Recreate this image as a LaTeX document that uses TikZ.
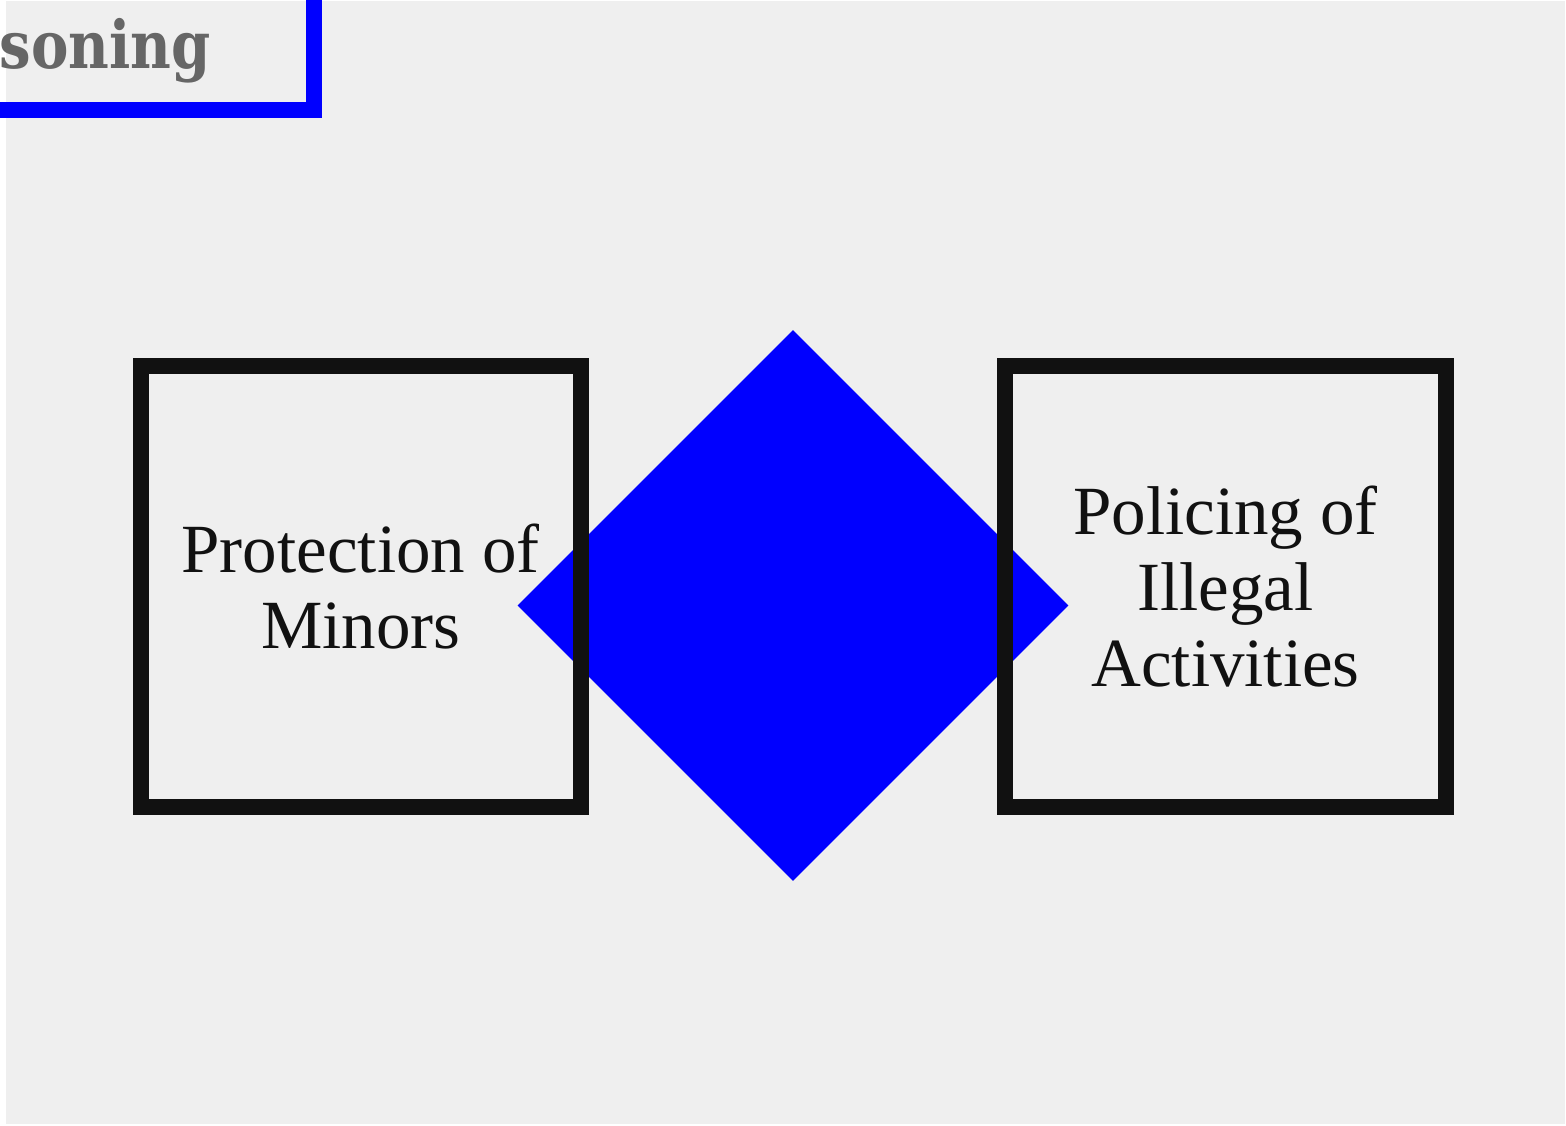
\documentclass[tikz,border=0pt]{standalone}
\usepackage{fontspec}
\setmainfont{Liberation Serif}
\newfontfamily\titlefont[FakeStretch=0.85]{DejaVu Serif}
\usepackage{tikz}
\usetikzlibrary{shapes.geometric}

\definecolor{canvas}{HTML}{EFEFEF}
\definecolor{ink}{HTML}{111111}
\definecolor{titlegray}{HTML}{666666}
\definecolor{pureblue}{HTML}{0000FF}

\begin{document}
\begin{tikzpicture}[x=1pt, y=-1pt, % one unit is one pixel, y runs down
		hub/.style={diamond, shape aspect=1, fill=pureblue, draw=none, inner sep=0pt, minimum width=551pt, minimum height=551pt},
		pillar/.style={rectangle, draw=ink, line width=16pt, minimum width=440.5pt, minimum height=441pt, align=center, text=ink, font=\fontsize{69}{76}\selectfont},
		titletext/.style={inner sep=0pt, text=titlegray, font=\titlefont\bfseries\fontsize{66}{70}\selectfont},
		titleframe/.style={draw=pureblue, line width=16pt}]
	% Page and background
	\useasboundingbox (0,0) rectangle (1566,1125);
	\clip (0,0) rectangle (1566,1125);
	\fill[canvas] (6,1) rectangle (1565,1124);

	% Title, cut off by the page edge
	\node[titletext, anchor=base east] (title) at (211,68) {Reasoning};
	\draw[titleframe] (-60,-60) rectangle (314,110);

	% Central diamond
	\node[hub] (hub) at (793,605.5) {};

	% Macro for a framed box with text.
	% Usage: \pillarbox{name}{x}{text}
	\newcommand{\pillarbox}[3]{
		\node[pillar] (#1) at (#2,586.5) {#3};
	}

	\pillarbox{minors}{360.75}{Protection of\\Minors};
	\pillarbox{policing}{1225.5}{Policing of\\Illegal\\Activities};
\end{tikzpicture}
\end{document}
